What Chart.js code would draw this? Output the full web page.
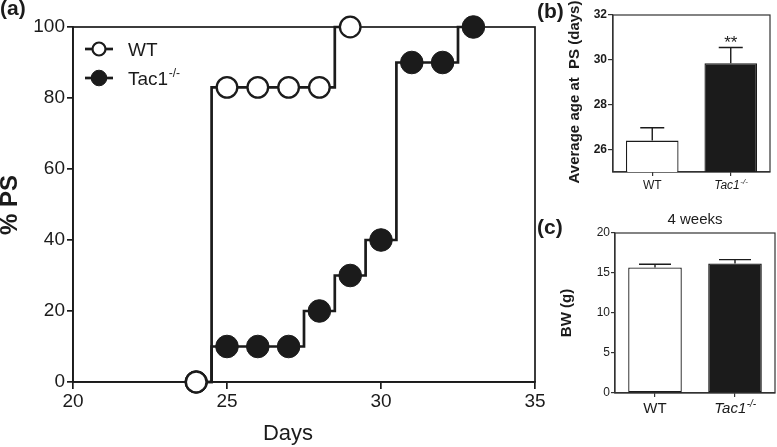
<!DOCTYPE html>
<html><head><meta charset="utf-8">
<script src="https://cdn.jsdelivr.net/npm/chart.js@4/dist/chart.umd.min.js"></script>
<style>
html,body{margin:0;padding:0;background:#fff;width:777px;height:447px;overflow:hidden}
canvas{position:absolute;display:block}
</style></head><body>
<canvas id="ca" width="560" height="447" style="left:0;top:0"></canvas>
<canvas id="cb" width="242" height="200" style="left:535px;top:0"></canvas>
<canvas id="cc" width="242" height="247" style="left:535px;top:200px"></canvas>
<script>
// ---- data ----
const wtDays = [24, 25, 26, 27, 28, 29];
const wtPS = [0, 83, 83, 83, 83, 100];
const tacDays = [24, 25, 26, 27, 28, 29, 30, 31, 32, 33];
const tacPS = [0, 10, 10, 10, 20, 30, 40, 90, 90, 100];
const dayTicks = [20, 25, 30, 35];
const psTicks = [0, 20, 40, 60, 80, 100];

const groups = ['WT', 'Tac1'];
const koSup = '-/-';
const ageMean = [26.4, 29.85];
const ageSem = [0.57, 0.7];
const ageTicks = [26, 28, 30, 32];
const bwMean = [15.7, 16.2];
const bwSem = [0.4, 0.47];
const bwTicks = [0, 5, 10, 15, 20];

// ---- helpers ----
const FONT = '"Liberation Sans", Arial, Helvetica, sans-serif';
const INK = '#1b1b1b';
const ticksFrom = arr => s => { s.ticks = arr.map(v => ({ value: v })); };

function frame(w, c) {
  return { id: 'frame', beforeDatasetsDraw(ch) {
    const a = ch.chartArea, x = ch.ctx;
    x.save(); x.strokeStyle = c; x.lineWidth = w;
    x.strokeRect(a.left, a.top, a.right - a.left, a.bottom - a.top);
    x.restore();
  } };
}
function textSup(ctx, x, y, base, sup, size, supSize, style, align) {
  ctx.font = `${style} ${size}px ${FONT}`;
  const w1 = ctx.measureText(base).width;
  ctx.font = `${style} ${supSize}px ${FONT}`;
  const w2 = sup ? ctx.measureText(sup).width : 0;
  const x0 = align === 'center' ? x - (w1 + w2) / 2 : x;
  ctx.textAlign = 'left'; ctx.textBaseline = 'alphabetic';
  ctx.font = `${style} ${size}px ${FONT}`; ctx.fillText(base, x0, y);
  if (sup) { ctx.font = `${style} ${supSize}px ${FONT}`; ctx.fillText(sup, x0 + w1 + 0.5, y - size * 0.4); }
}
function rotText(ctx, t, cx, cy, font) {
  ctx.save(); ctx.translate(cx, cy); ctx.rotate(-Math.PI / 2);
  ctx.font = font; ctx.textAlign = 'center'; ctx.textBaseline = 'middle';
  ctx.fillText(t, 0, 0); ctx.restore();
}
function errBars(mean, sem, cap) {
  return { id: 'err', afterDatasetsDraw(ch) {
    const ys = ch.scales.y, meta = ch.getDatasetMeta(0), x = ch.ctx;
    x.save(); x.strokeStyle = INK; x.lineWidth = 1.4;
    meta.data.forEach((b, i) => {
      const y0 = ys.getPixelForValue(mean[i]), y1 = ys.getPixelForValue(mean[i] + sem[i]);
      x.beginPath(); x.moveTo(b.x, y0); x.lineTo(b.x, y1);
      x.moveTo(b.x - cap, y1); x.lineTo(b.x + cap, y1); x.stroke();
    });
    x.restore();
  } };
}

// ---- panel (a) ----
new Chart(document.getElementById('ca'), {
  type: 'line',
  data: { datasets: [
    { label: groups[0], data: wtDays.map((d, i) => ({ x: d, y: wtPS[i] })), stepped: 'middle',
      borderColor: INK, borderWidth: 2.7, pointRadius: 10.3, pointBorderWidth: 2.3,
      pointBackgroundColor: '#fff', pointBorderColor: INK, clip: false },
    { label: groups[1], data: tacDays.map((d, i) => ({ x: d, y: tacPS[i] })), stepped: 'middle',
      borderColor: INK, borderWidth: 2.7, pointRadius: 11.3, pointBorderWidth: 1,
      pointBackgroundColor: INK, pointBorderColor: INK, clip: false }
  ] },
  options: {
    responsive: false, animation: false,
    layout: { autoPadding: false, padding: { top: 27, right: 25, left: 0, bottom: 0 } },
    plugins: { legend: { display: false }, tooltip: { enabled: false } },
    scales: {
      x: { type: 'linear', min: 20, max: 35, afterBuildTicks: ticksFrom(dayTicks),
        afterFit: s => { s.height = 65; s.paddingRight = 0; s.paddingLeft = 0; },
        grid: { drawOnChartArea: false, drawTicks: true, tickLength: 7, color: INK, lineWidth: 1.7 },
        border: { color: INK, width: 1.7 },
        ticks: { font: { family: FONT, size: 19 }, color: INK, padding: 1, maxRotation: 0 } },
      y: { min: 0, max: 100, afterBuildTicks: ticksFrom(psTicks), afterFit: s => { s.width = 73; },
        grid: { drawOnChartArea: false, drawTicks: true, tickLength: 6, color: INK, lineWidth: 1.7 },
        border: { color: INK, width: 1.7 },
        ticks: { font: { family: FONT, size: 19 }, color: INK, padding: 2 } }
    }
  },
  plugins: [frame(1.7, INK), { id: 'txtA', afterDraw(ch) {
    const c = ch.ctx; c.save(); c.fillStyle = INK;
    c.font = `bold 21px ${FONT}`; c.textAlign = 'left'; c.textBaseline = 'alphabetic';
    c.fillText('(a)', 0, 15);
    rotText(c, '% PS', 10, 205, `bold 24px ${FONT}`);
    c.font = `22px ${FONT}`; c.textAlign = 'center'; c.textBaseline = 'alphabetic';
    c.fillText('Days', 288, 440);
    // legend
    const rows = [{ y: 49, fill: '#fff', r: 6.5, bw: 2.2, t: groups[0], s: '' },
                  { y: 78, fill: INK, r: 7.8, bw: 1, t: groups[1], s: koSup }];
    rows.forEach(r => {
      c.strokeStyle = INK; c.lineWidth = 2.7;
      c.beginPath(); c.moveTo(85, r.y); c.lineTo(113, r.y); c.stroke();
      c.beginPath(); c.arc(99, r.y, r.r, 0, Math.PI * 2); c.fillStyle = r.fill; c.fill();
      c.lineWidth = r.bw; c.stroke();
      c.fillStyle = INK;
      textSup(c, 128, r.y + 7, r.t, r.s, 19, 12, '', 'left');
    });
    c.restore();
  } }]
});

// ---- panel (b) ----
new Chart(document.getElementById('cb'), {
  type: 'bar',
  data: { labels: groups, datasets: [{ data: ageMean, backgroundColor: ['#fff', INK], borderColor: INK,
    borderWidth: 1.3, borderSkipped: false, barPercentage: 0.67, categoryPercentage: 1 }] },
  options: {
    responsive: false, animation: false,
    layout: { autoPadding: false, padding: { top: 15, right: 7, left: 0, bottom: 0 } },
    plugins: { legend: { display: false }, tooltip: { enabled: false } },
    scales: {
      x: { afterFit: s => { s.height = 28; },
        grid: { offset: false, drawOnChartArea: false, drawTicks: true, tickLength: 4, color: '#333', lineWidth: 1.2 },
        border: { color: '#333', width: 1.2 }, ticks: { display: false } },
      y: { min: 25, max: 32, afterBuildTicks: ticksFrom(ageTicks), afterFit: s => { s.width = 78; },
        grid: { drawOnChartArea: false, drawTicks: true, tickLength: 5, color: '#333', lineWidth: 1.2 },
        border: { color: '#333', width: 1.2 },
        ticks: { font: { family: FONT, size: 12, weight: 'bold' }, color: INK, padding: 1 } }
    }
  },
  plugins: [frame(1.2, '#333'), errBars(ageMean, ageSem, 12), { id: 'txtB', afterDraw(ch) {
    const c = ch.ctx; c.save(); c.fillStyle = INK;
    c.font = `bold 21px ${FONT}`; c.textAlign = 'left'; c.textBaseline = 'alphabetic';
    c.fillText('(b)', 2, 18);
    rotText(c, 'Average age at  PS (days)', 40, 92, `bold 15px ${FONT}`);
    const m = ch.getDatasetMeta(0).data;
    textSup(c, m[0].x, 188.5, groups[0], '', 12, 8, '', 'center');
    textSup(c, m[1].x, 188.5, groups[1], koSup, 12, 8, 'italic', 'center');
    c.font = `17px ${FONT}`; c.textAlign = 'center'; c.textBaseline = 'alphabetic';
    c.fillText('**', m[1].x, 48);
    c.restore();
  } }]
});

// ---- panel (c) ----
new Chart(document.getElementById('cc'), {
  type: 'bar',
  data: { labels: groups, datasets: [{ data: bwMean, backgroundColor: ['#fff', INK], borderColor: INK,
    borderWidth: 1.3, borderSkipped: false, barPercentage: 0.67, categoryPercentage: 1 }] },
  options: {
    responsive: false, animation: false,
    layout: { autoPadding: false, padding: { top: 33, right: 2, left: 0, bottom: 0 } },
    plugins: { legend: { display: false }, tooltip: { enabled: false } },
    scales: {
      x: { afterFit: s => { s.height = 54; },
        grid: { offset: false, drawOnChartArea: false, drawTicks: true, tickLength: 4, color: '#333', lineWidth: 1.2 },
        border: { color: '#333', width: 1.2 }, ticks: { display: false } },
      y: { min: 0, max: 20, afterBuildTicks: ticksFrom(bwTicks), afterFit: s => { s.width = 80; },
        grid: { drawOnChartArea: false, drawTicks: true, tickLength: 4, color: '#333', lineWidth: 1.2 },
        border: { color: '#333', width: 1.2 },
        ticks: { font: { family: FONT, size: 12 }, color: INK, padding: 1 } }
    }
  },
  plugins: [frame(1.2, '#333'), errBars(bwMean, bwSem, 16), { id: 'txtC', afterDraw(ch) {
    const c = ch.ctx; c.save(); c.fillStyle = INK;
    c.font = `bold 21px ${FONT}`; c.textAlign = 'left'; c.textBaseline = 'alphabetic';
    c.fillText('(c)', 2, 34);
    c.font = `15px ${FONT}`; c.textAlign = 'center';
    c.fillText('4 weeks', 160, 24);
    rotText(c, 'BW (g)', 32, 113, `bold 15px ${FONT}`);
    const m = ch.getDatasetMeta(0).data;
    textSup(c, m[0].x, 213, groups[0], '', 15, 10, '', 'center');
    textSup(c, m[1].x, 213, groups[1], koSup, 15, 10, 'italic', 'center');
    c.restore();
  } }]
});
</script>
</body></html>
